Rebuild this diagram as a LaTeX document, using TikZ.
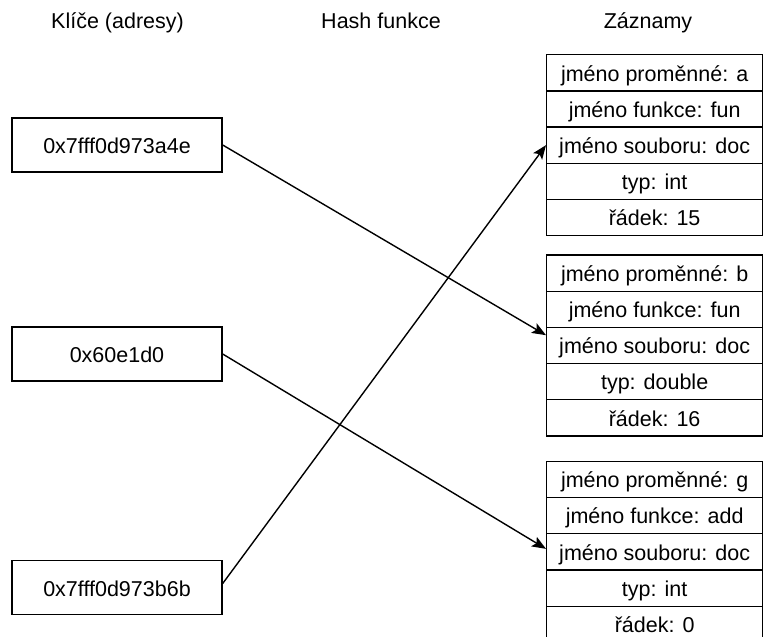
\documentclass[tikz,border=0pt]{standalone}
\usepackage{fontspec}
\setmainfont{Liberation Sans}
\usetikzlibrary{arrows.meta,calc}
\begin{document}
\begin{tikzpicture}[x=1pt,y=-1pt,
  every node/.style={font=\fontsize{21.5}{26}\selectfont, text=black},
  keybox/.style={draw, line width=1.4pt, minimum width=210pt, minimum height=54pt, inner sep=0pt, text height=17pt, text depth=0pt},
  rowbox/.style={draw, line width=1.3pt, minimum width=216pt, minimum height=36.2pt, inner sep=0pt, anchor=north west, text height=16.5pt, text depth=0pt},
  title/.style={inner sep=0pt, anchor=base},
  link/.style={line width=1.4pt, -{Stealth[length=14pt,width=11pt,inset=3pt]}}]
\clip (0,0) rectangle (764,637);
\useasboundingbox (0,0) rectangle (764,637);
\fill[white] (0,0) rectangle (764,637);

% titles
\node[title] (h1) at (117.5,28.5) {Klíče (adresy)};
\node[title] (h2) at (381,28.5) {Hash funkce};
\node[title] (h3) at (648,28.5) {Záznamy};

% keys
\node[keybox] (b1) at (117,145) {0x7fff0d973a4e};
\node[keybox] (b2) at (117,354) {0x60e1d0};
\node[keybox] (b3) at (117,587.5) {0x7fff0d973b6b};

% table 1
\node[rowbox] (t1r1) at (546,54) {jméno proměnné: a};
\node[rowbox] (t1r2) at (546,90.2) {jméno funkce: fun};
\node[rowbox] (t1r3) at (546,126.4) {jméno souboru: doc};
\node[rowbox] (t1r4) at (546,162.6) {typ: int};
\node[rowbox] (t1r5) at (546,198.8) {řádek: 15};

% table 2
\node[rowbox] (t2r1) at (546,254.3) {jméno proměnné: b};
\node[rowbox] (t2r2) at (546,290.5) {jméno funkce: fun};
\node[rowbox] (t2r3) at (546,326.7) {jméno souboru: doc};
\node[rowbox] (t2r4) at (546,362.9) {typ: double};
\node[rowbox] (t2r5) at (546,399.1) {řádek: 16};

% table 3
\node[rowbox] (t3r1) at (546,460.7) {jméno proměnné: g};
\node[rowbox] (t3r2) at (546,496.9) {jméno funkce: add};
\node[rowbox] (t3r3) at (546,533.1) {jméno souboru: doc};
\node[rowbox] (t3r4) at (546,569.3) {typ: int};
\node[rowbox] (t3r5) at (546,605.5) {řádek: 0};

% links
\draw[link] (b1.east) -- ($(t2r3.north west)+(0,8.5)$);
\draw[link] (b2.east) -- ($(t3r3.west)+(0,-3)$);
\draw[link] ($(b3.east)+(0,-4)$) -- (t1r3.west);
\end{tikzpicture}
\end{document}
